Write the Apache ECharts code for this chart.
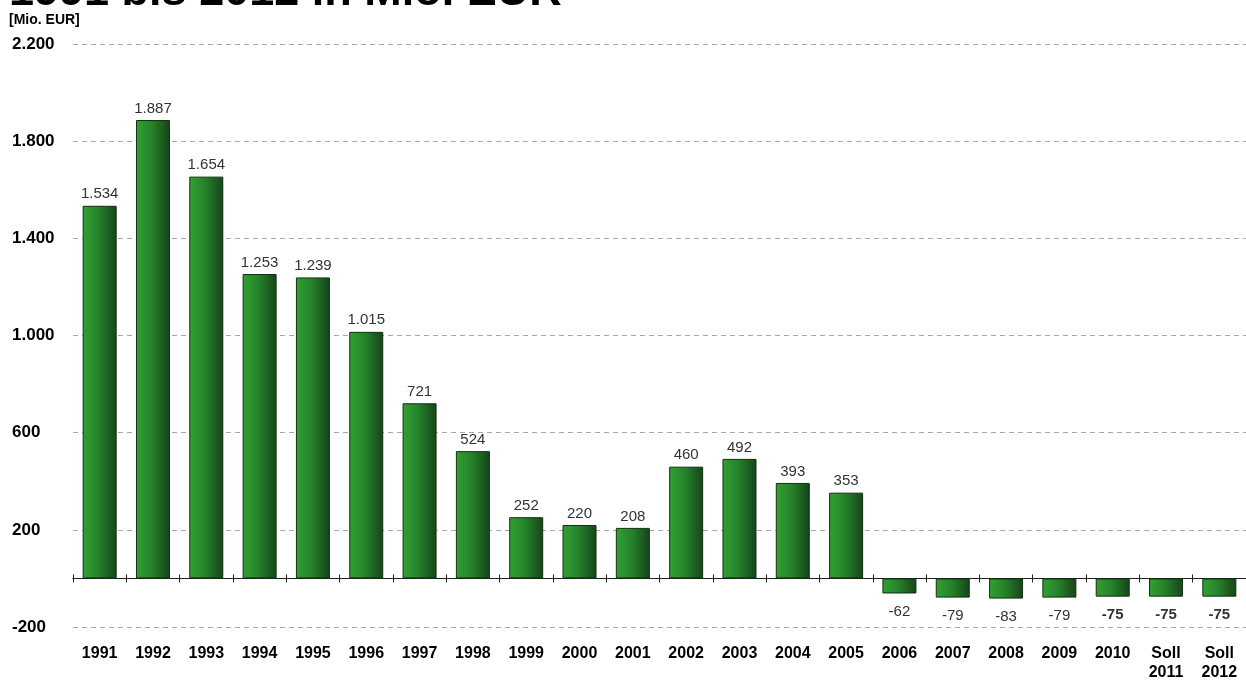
<!DOCTYPE html>
<html>
<head>
<meta charset="utf-8">
<script src="https://cdn.jsdelivr.net/npm/echarts@6/dist/echarts.min.js"></script>
<style>
html,body{margin:0;padding:0;background:#fff;}
#chart{width:1246px;height:681px;}
</style>
</head>
<body>
<div id="chart"></div>
<script>
const titleText = '1991 bis 2012 in Mio. EUR';
const unitText = '[Mio. EUR]';
const categories = ['1991','1992','1993','1994','1995','1996','1997','1998','1999','2000','2001','2002','2003','2004','2005','2006','2007','2008','2009','2010','Soll\n2011','Soll\n2012'];
const values = [1534,1887,1654,1253,1239,1015,721,524,252,220,208,460,492,393,353,-62,-79,-83,-79,-75,-75,-75];
const yMin = -200, yMax = 2200, yStep = 400;

function de(n){
  const s = Math.abs(n).toString().replace(/\B(?=(\d{3})+(?!\d))/g,'.');
  return (n<0?'-':'') + s;
}

const barGrad = new echarts.graphic.LinearGradient(0,0,1,0,[
  {offset:0,color:'#33a033'},
  {offset:0.45,color:'#25842a'},
  {offset:1,color:'#17431a'}
]);

const data = values.map((v,i)=>({
  value:v,
  label:{
    position: v<0 ? 'bottom' : 'top',
    fontWeight: i>=19 ? 'bold' : 'normal',
    distance: v<0 ? 11 : 4
  }
}));

const gridBox = {left:73,right:0,top:44,bottom:54,containLabel:false,outerBoundsMode:'none'};
const axFont = 'Liberation Sans Narrow, Liberation Sans, Arial';

const chart = echarts.init(document.getElementById('chart'));
chart.setOption({
  animation:false,
  backgroundColor:'#fff',
  title:[
    {text:titleText,left:4,top:-35,textStyle:{fontSize:45,fontWeight:'bold',color:'#000',fontFamily:'Liberation Sans, Arial'}},
    {text:unitText,left:4,top:8,textStyle:{fontSize:14,fontWeight:'bold',color:'#000',fontFamily:axFont}}
  ],
  grid:[Object.assign({},gridBox),Object.assign({},gridBox)],
  xAxis:[
    {type:'category',data:categories,gridIndex:0,position:'bottom',
     axisLine:{onZero:true,lineStyle:{color:'#222',width:1}},
     axisTick:{show:true,inside:false,length:4,lineStyle:{color:'#222'}},
     axisLabel:{show:false},splitLine:{show:false}},
    {type:'category',data:categories,gridIndex:0,position:'bottom',
     axisLine:{onZero:false,show:false},
     axisTick:{show:false},
     axisLabel:{show:true,margin:17,color:'#000',fontSize:16,fontWeight:'bold',lineHeight:19,
       fontFamily:axFont,verticalAlign:'top'},
     splitLine:{show:false}},
    {type:'category',data:categories,gridIndex:1,position:'bottom',
     axisLine:{onZero:true,show:true,lineStyle:{color:'#222',width:1}},
     axisTick:{show:true,inside:true,length:4,lineStyle:{color:'#222'}},
     axisLabel:{show:false},splitLine:{show:false}}
  ],
  yAxis:[
    {type:'value',gridIndex:0,min:yMin,max:yMax,interval:yStep,
    axisLine:{show:false},axisTick:{show:false},
    axisLabel:{color:'#000',fontSize:17,fontWeight:'bold',align:'left',margin:61,
      fontFamily:axFont,formatter:v=>de(v)},
    splitLine:{show:true,lineStyle:{color:'#a8a8a8',type:[5,4],width:1}}},
    {type:'value',gridIndex:1,min:yMin,max:yMax,interval:yStep,
     axisLine:{show:false},axisTick:{show:false},axisLabel:{show:false},
     splitLine:{show:false}}
  ],
  series:[{
    type:'bar',xAxisIndex:0,yAxisIndex:0,data:data,barWidth:34,
    itemStyle:{color:barGrad,borderColor:'#10300f',borderWidth:1},
    label:{show:true,color:'#333',fontSize:15,fontFamily:'Liberation Sans, Arial',
      formatter:p=>de(p.value)}
  }]
});
</script>
</body>
</html>
